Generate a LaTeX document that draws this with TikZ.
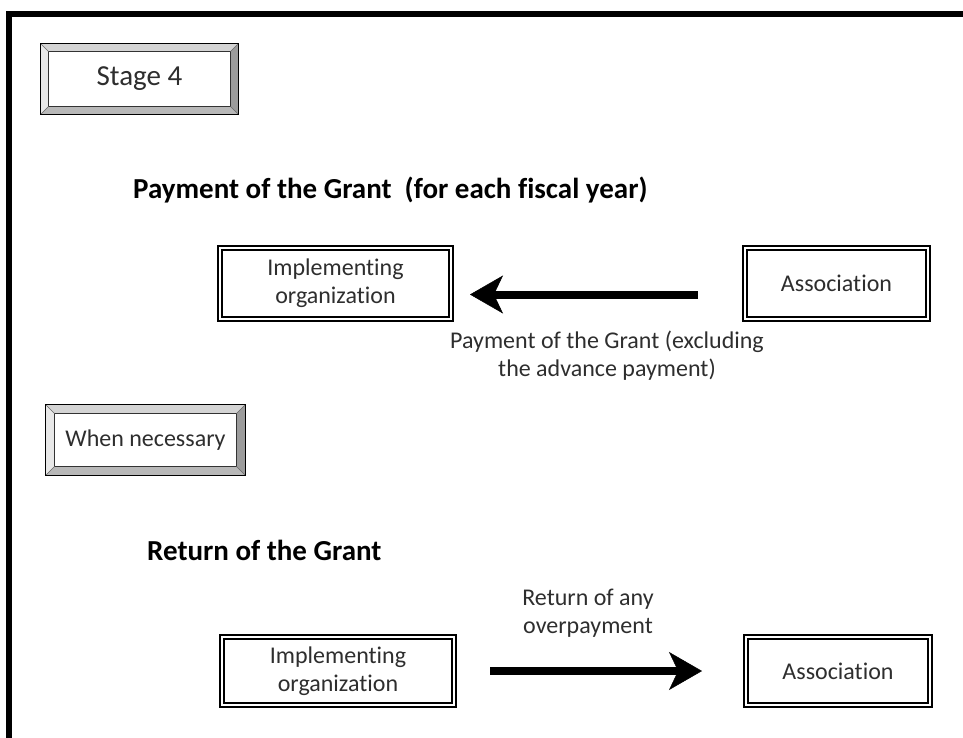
\documentclass[tikz,border=0pt]{standalone}
\usepackage{fontspec}
\setmainfont{Carlito}[Ligatures=NoCommon]
\usepackage{xcolor}
\usepackage{tikz}
\usetikzlibrary{
    arrows.meta,
    positioning,
    calc
}
\definecolor{grtext}{HTML}{2E2E2E}
\definecolor{grbevtop}{HTML}{D4D4D4}
\definecolor{grbevleft}{HTML}{E8E8E8}
\definecolor{grbevright}{HTML}{9C9C9C}
\definecolor{grbevbottom}{HTML}{B8B8B8}
\tikzset{
    % Bevelled label box
    bevelbox/.style={
        rectangle,
        draw=black,
        line width=1.2pt,
        fill=white,
        text=grtext,
        font=\fontsize{24}{29}\selectfont,
        align=center,
        inner sep=0pt,
        path picture={
            \fill[grbevtop] (path picture bounding box.north west) -- (path picture bounding box.north east)
                -- ([xshift=-#1, yshift=-#1]path picture bounding box.north east)
                -- ([xshift=#1, yshift=-#1]path picture bounding box.north west) -- cycle;
            \fill[grbevleft] (path picture bounding box.north west) -- (path picture bounding box.south west)
                -- ([xshift=#1, yshift=#1]path picture bounding box.south west)
                -- ([xshift=#1, yshift=-#1]path picture bounding box.north west) -- cycle;
            \fill[grbevright] (path picture bounding box.north east) -- (path picture bounding box.south east)
                -- ([xshift=-#1, yshift=#1]path picture bounding box.south east)
                -- ([xshift=-#1, yshift=-#1]path picture bounding box.north east) -- cycle;
            \fill[grbevbottom] (path picture bounding box.south west) -- (path picture bounding box.south east)
                -- ([xshift=-#1, yshift=#1]path picture bounding box.south east)
                -- ([xshift=#1, yshift=#1]path picture bounding box.south west) -- cycle;
            \draw[line width=0.8pt, black!80] ([xshift=#1, yshift=-#1]path picture bounding box.north west)
                rectangle ([xshift=-#1, yshift=#1]path picture bounding box.south east);
            \draw[line width=0.5pt, black!60]
                (path picture bounding box.north west) -- ([xshift=#1, yshift=-#1]path picture bounding box.north west)
                (path picture bounding box.north east) -- ([xshift=-#1, yshift=-#1]path picture bounding box.north east)
                (path picture bounding box.south west) -- ([xshift=#1, yshift=#1]path picture bounding box.south west)
                (path picture bounding box.south east) -- ([xshift=-#1, yshift=#1]path picture bounding box.south east);
        }
    },
    bevelbox/.default=8pt,
    % Double framed party box
    partybox/.style={
        rectangle,
        draw=black,
        double=white,
        double distance=2pt,
        line width=2.2pt,
        fill=white,
        outer sep=3.2pt,
        text=grtext,
        font=\fontsize{24}{28}\selectfont,
        align=center,
        inner sep=0pt
    },
    % Section heading
    headtext/.style={
        anchor=base west,
        inner sep=0pt,
        text=black,
        font=\fontsize{29}{35}\selectfont\bfseries
    },
    % Arrow label
    flowlabel/.style={
        inner sep=0pt,
        text=grtext,
        align=center,
        font=\fontsize{24}{28}\selectfont
    },
    % Thick arrow
    flowarrow/.style={
        -{Stealth[length=33pt, width=38pt, inset=9pt, line width=0.5pt]},
        line width=8pt,
        color=black
    }
}

\begin{document}
\begin{tikzpicture}[x=1pt, y=-1pt]

    \useasboundingbox (0,0) rectangle (963,738);

    % Frame
    \draw[line width=6pt] (963,14) -- (9,14) -- (9,738);

    % Stage labels
    \node[bevelbox, minimum width=197.8pt, minimum height=70.8pt, font=\fontsize{29}{35}\selectfont] (stage-box) at (139.5,79) {Stage 4};
    \node[bevelbox=9pt, minimum width=199.8pt, minimum height=70.8pt] (when-box) at (145.5,440) {When necessary};

    % Headings
    \node[headtext] (pay-head) at (133,199) {Payment of the Grant~ (for each fiscal year)};
    \node[headtext] (ret-head) at (147,560) {Return of the Grant};

    % Payment boxes
    \node[partybox, minimum width=230.6pt, minimum height=70.6pt] (impl-pay) at (335.5,283.5) {Implementing\\organization};
    \node[partybox, minimum width=182.6pt, minimum height=70.6pt, right=288pt of impl-pay] (assoc-pay) {Association};

    % Return boxes
    \node[partybox, minimum width=231.6pt, minimum height=67.6pt] (impl-ret) at (338,671) {Implementing\\organization};
    \node[partybox, minimum width=183.6pt, minimum height=67.6pt, right=286pt of impl-ret] (assoc-ret) {Association};

    % Arrows with labels
    \draw[flowarrow, shorten <=44pt, shorten >=16pt] ([yshift=-11pt]assoc-pay.west) -- node[flowlabel, below=32pt, xshift=9pt] {Payment of the Grant (excluding\\the advance payment)} ([yshift=-11pt]impl-pay.east);
    \draw[flowarrow, shorten <=33pt, shorten >=41pt] (impl-ret.east) -- node[flowlabel, above=30pt, xshift=-12pt] {Return of any\\overpayment} (impl-ret.east -| assoc-ret.west);

\end{tikzpicture}
\end{document}
